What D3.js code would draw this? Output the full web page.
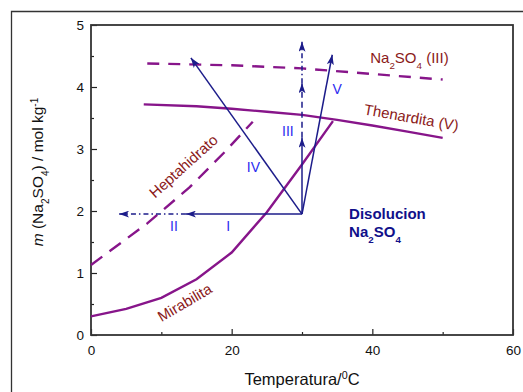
<!DOCTYPE html>
<meta charset="utf-8">
<html>
<head>
<script src="https://d3js.org/d3.v7.min.js"></script>
<style>
  body { margin: 0; background: #fff; }
  text { font-family: "Liberation Sans", Arial, sans-serif; }
</style>
</head>
<body>
<div id="chart"></div>
<script>
  // phase boundaries, [temperature, molality]
  var mirabilita  = [[0,0.3],[5,0.42],[10,0.6],[15,0.9],[20,1.33],[25,1.98],[30,2.75],[34.4,3.45]];
  var thenardita  = [[7.5,3.72],[15,3.69],[20,3.65],[25,3.6],[30,3.55],[35,3.47],[40,3.38],[45,3.28],[50,3.18]];
  var na2so4III   = [[8,4.38],[20,4.35],[30,4.3],[40,4.21],[50,4.12]];
  var heptahidrato = [[0,1.13],[8,1.8],[14,2.38],[19,2.95],[23,3.44]];

  // process arrows: start, end, line style
  var arrows = [
    {from: [30,1.95],  to: [13.5,1.95], style: "solid"},
    {from: [13.5,1.95], to: [4,1.95],   style: "dashdot"},
    {from: [30,1.95],  to: [30,3.18],   style: "solid"},
    {from: [30,3.18],  to: [30,4.06],   style: "dash"},
    {from: [30,4.06],  to: [30,4.73],   style: "dashdot"},
    {from: [30,1.95],  to: [14.2,4.47], style: "solid"},
    {from: [30,1.95],  to: [34.3,4.52], style: "solid"}
  ];
  var arrowLabels = [
    {text: "I",   t: 19.5, m: 1.68},
    {text: "II",  t: 11.8, m: 1.68},
    {text: "III", t: 28.0, m: 3.21},
    {text: "IV",  t: 23.1, m: 2.63},
    {text: "V",   t: 35.0, m: 3.89}
  ];

  var xTicks = [0, 20, 40, 60];
  var xMinor = [10, 30, 50];
  var yTicks = [0, 1, 2, 3, 4, 5];
  var yMinor = [0.5, 1.5, 2.5, 3.5, 4.5];

  var W = 523, H = 392;
  var margin = {top: 25, right: 10, bottom: 57, left: 91};
  var width = W - margin.left - margin.right,
      height = H - margin.top - margin.bottom;

  var purple = "#87158a", darkred = "#8b1a1a", navy = "#1c1c8a", blue = "#2b2bf0";

  var svg = d3.select("#chart").append("svg")
      .attr("width", W).attr("height", H);

  // outer frame (cropped at right and bottom)
  svg.append("path")
    .attr("d", "M11.5," + H + " L11.5,11.5 L" + W + ",11.5")
    .attr("fill", "none").attr("stroke", "#333").attr("stroke-width", 1.3);

  var g = svg.append("g").attr("transform", "translate(" + margin.left + "," + margin.top + ")");

  var x = d3.scaleLinear().domain([0, 60]).range([0, width]);
  var y = d3.scaleLinear().domain([0, 5]).range([height, 0]);

  // axes, ticks inward
  g.append("g").attr("transform", "translate(0," + height + ")")
    .call(d3.axisBottom(x).tickValues(xTicks).tickSize(-6).tickPadding(10).tickFormat(d3.format("d")));
  g.append("g").attr("transform", "translate(0," + height + ")")
    .call(d3.axisBottom(x).tickValues(xMinor).tickSize(-3).tickFormat(""));
  g.append("g")
    .call(d3.axisLeft(y).tickValues(yTicks).tickSize(-6).tickPadding(7).tickFormat(d3.format("d")));
  g.append("g")
    .call(d3.axisLeft(y).tickValues(yMinor).tickSize(-3).tickFormat(""));
  g.selectAll(".domain").remove();
  g.selectAll(".tick line").attr("stroke", "#222").attr("stroke-width", 1.2);
  g.selectAll(".tick text").attr("font-size", 13.5).attr("fill", "#111")
    .style("font-family", "'Liberation Sans', Arial, sans-serif");

  g.append("rect").attr("width", width).attr("height", height)
    .attr("fill", "none").attr("stroke", "#333").attr("stroke-width", 1.8);

  var line = d3.line().x(function(d){ return x(d[0]); }).y(function(d){ return y(d[1]); });

  g.append("path").datum(mirabilita).attr("d", line)
    .attr("fill", "none").attr("stroke", purple).attr("stroke-width", 2.4);
  g.append("path").datum(thenardita).attr("d", line)
    .attr("fill", "none").attr("stroke", purple).attr("stroke-width", 2.4);
  g.append("path").datum(na2so4III).attr("d", line)
    .attr("fill", "none").attr("stroke", purple).attr("stroke-width", 2.4)
    .attr("stroke-dasharray", "12,9");
  g.append("path").datum(heptahidrato).attr("d", line)
    .attr("fill", "none").attr("stroke", purple).attr("stroke-width", 2.4)
    .attr("stroke-dasharray", "14,9");

  // arrowhead marker
  svg.append("defs").append("marker")
    .attr("id", "head")
    .attr("markerUnits", "userSpaceOnUse")
    .attr("viewBox", "0 0 10 7")
    .attr("markerWidth", 10).attr("markerHeight", 7)
    .attr("refX", 10).attr("refY", 3.5)
    .attr("orient", "auto")
    .append("path").attr("d", "M0,0 L10,3.5 L0,7 L2.5,3.5 z").attr("fill", navy);

  var dashes = {solid: null, dash: "6,4", dashdot: "5,3,1.5,3"};
  g.selectAll(".arrow").data(arrows).enter().append("line")
    .attr("class", "arrow")
    .attr("x1", function(d){ return x(d.from[0]); })
    .attr("y1", function(d){ return y(d.from[1]); })
    .attr("x2", function(d){ return x(d.to[0]); })
    .attr("y2", function(d){ return y(d.to[1]); })
    .attr("stroke", navy).attr("stroke-width", 1.5)
    .attr("stroke-dasharray", function(d){ return dashes[d.style]; })
    .attr("marker-end", "url(#head)");

  g.selectAll(".alabel").data(arrowLabels).enter().append("text")
    .attr("class", "alabel")
    .attr("x", function(d){ return x(d.t); })
    .attr("y", function(d){ return y(d.m); })
    .attr("text-anchor", "middle")
    .attr("font-size", 14).attr("fill", blue)
    .text(function(d){ return d.text; });

  // helper for chemical text with sub/superscripts
  function chem(sel, parts) {
    parts.forEach(function(p) {
      var t = sel.append("tspan").text(p[0]);
      if (p[1] === "sub") t.attr("baseline-shift", "sub").attr("font-size", "65%");
      if (p[1] === "sup") t.attr("baseline-shift", "super").attr("font-size", "65%");
      if (p[1] === "it") t.attr("font-style", "italic");
    });
  }

  var t1 = g.append("text").attr("x", x(39.7)).attr("y", y(4.39))
    .attr("font-size", 15).attr("fill", darkred);
  chem(t1, [["Na"],["2","sub"],["SO"],["4","sub"],[" (III)"]]);

  g.append("text")
    .attr("transform", "translate(" + x(38.7) + "," + y(3.56) + ") rotate(10)")
    .attr("font-size", 15).attr("fill", darkred).text("Thenardita (V)");

  g.append("text")
    .attr("transform", "translate(" + x(13.65) + "," + y(2.66) + ") rotate(-42)")
    .attr("text-anchor", "middle")
    .attr("font-size", 15).attr("fill", darkred).text("Heptahidrato");

  g.append("text")
    .attr("transform", "translate(" + x(13.7) + "," + y(0.45) + ") rotate(-30.5)")
    .attr("text-anchor", "middle")
    .attr("font-size", 15).attr("fill", darkred).text("Mirabilita");

  g.append("text").attr("x", x(36.7)).attr("y", y(1.87))
    .attr("font-size", 15).attr("font-weight", "bold").attr("fill", "#10108a")
    .text("Disolucion");
  var t2 = g.append("text").attr("x", x(36.7)).attr("y", y(1.58))
    .attr("font-size", 15).attr("font-weight", "bold").attr("fill", "#10108a");
  chem(t2, [["Na"],["2","sub"],["SO"],["4","sub"]]);

  // axis titles
  var xt = svg.append("text").attr("x", margin.left + width / 2).attr("y", 385)
    .attr("text-anchor", "middle").attr("font-size", 16.5).attr("fill", "#111");
  chem(xt, [["Temperatura/"],["0","sup"],["C"]]);

  var yt = svg.append("text")
    .attr("transform", "translate(43,172) rotate(-90)")
    .attr("text-anchor", "middle").attr("font-size", 15.5).attr("fill", "#111");
  chem(yt, [["m","it"],[" (Na"],["2","sub"],["SO"],["4","sub"],[") / mol kg"],["-1","sup"]]);
</script>
</body>
</html>
